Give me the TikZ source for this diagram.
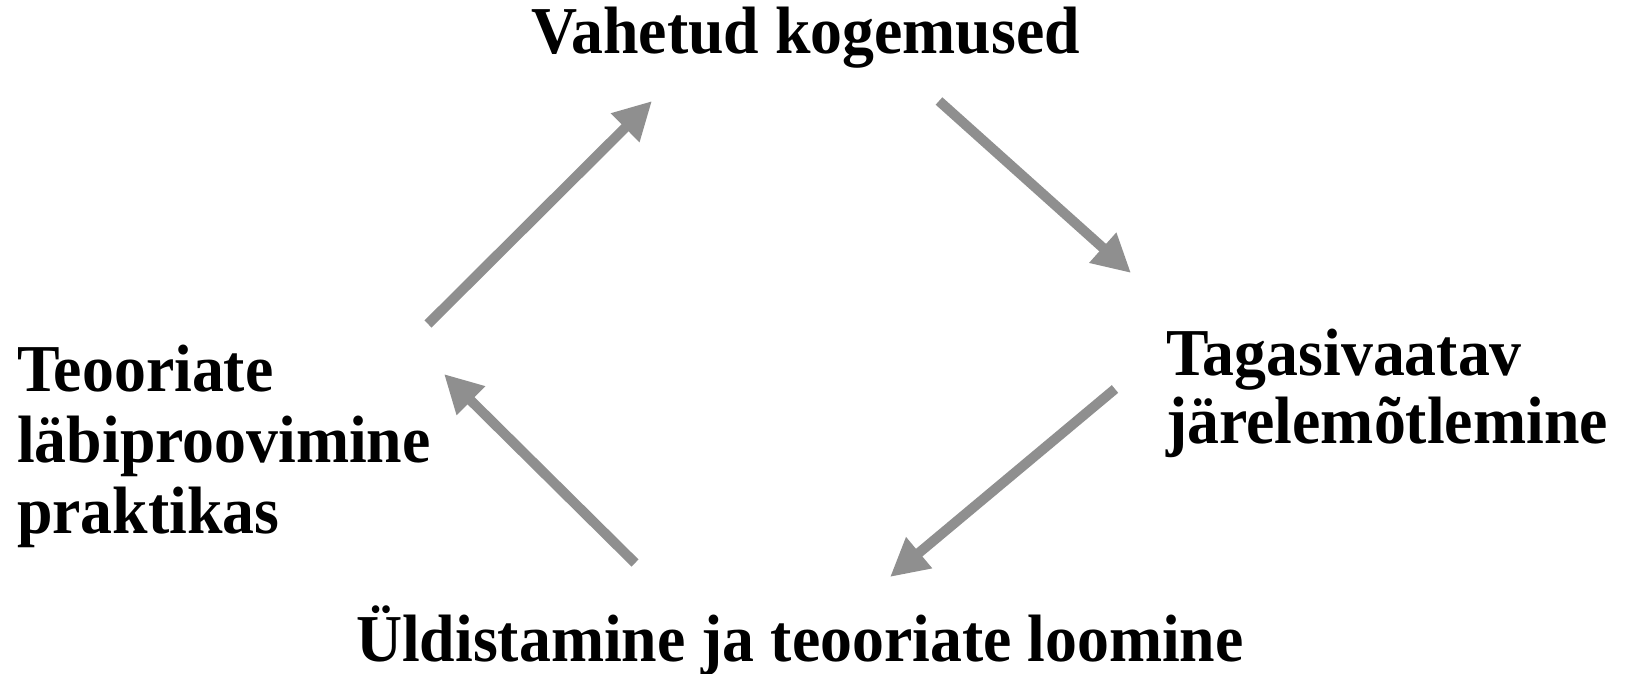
\documentclass[tikz,border=0pt]{standalone}
\usepackage{fontspec}
\setmainfont[FakeStretch=0.952]{Liberation Serif}
\usetikzlibrary{arrows.meta}
\definecolor{arrowgray}{RGB}{143,143,143}
\tikzset{
  label text/.style={inner sep=0pt, font=\fontsize{67}{71}\selectfont\bfseries, align=left},
  cycle arrow/.style={draw=arrowgray, line width=10pt,
    -{Triangle[length=38pt, width=38pt, fill=arrowgray]}},
}
\begin{document}
\begin{tikzpicture}[x=1pt, y=-1pt]
  \useasboundingbox (0,0) rectangle (1627,674);
  % stage labels (multi-line nodes are placed by their last baseline)
  \node[label text, anchor=base west] (exp) at (531,54) {Vahetud kogemused};
  \node[label text, anchor=base west, font=\fontsize{67}{68}\selectfont\bfseries] (refl) at (1166,443) {Tagasivaatav\\järelemõtlemine};
  \node[label text, anchor=base west] (gen) at (356,661) {Üldistamine ja teooriate loomine};
  \node[label text, anchor=base west] (test) at (17,533) {Teooriate\\läbiproovimine\\praktikas};
  % arrow ends
  \coordinate (a1s) at (428,324); \coordinate (a1e) at (652,101);
  \coordinate (a2s) at (939,101); \coordinate (a2e) at (1131,273);
  \coordinate (a3s) at (1115,389); \coordinate (a3e) at (890,577);
  \coordinate (a4s) at (635,563); \coordinate (a4e) at (444,374);
  % cycle arrows
  \draw[cycle arrow] (a1s) -- (a1e);
  \draw[cycle arrow] (a2s) -- (a2e);
  \draw[cycle arrow] (a3s) -- (a3e);
  \draw[cycle arrow] (a4s) -- (a4e);
\end{tikzpicture}
\end{document}
